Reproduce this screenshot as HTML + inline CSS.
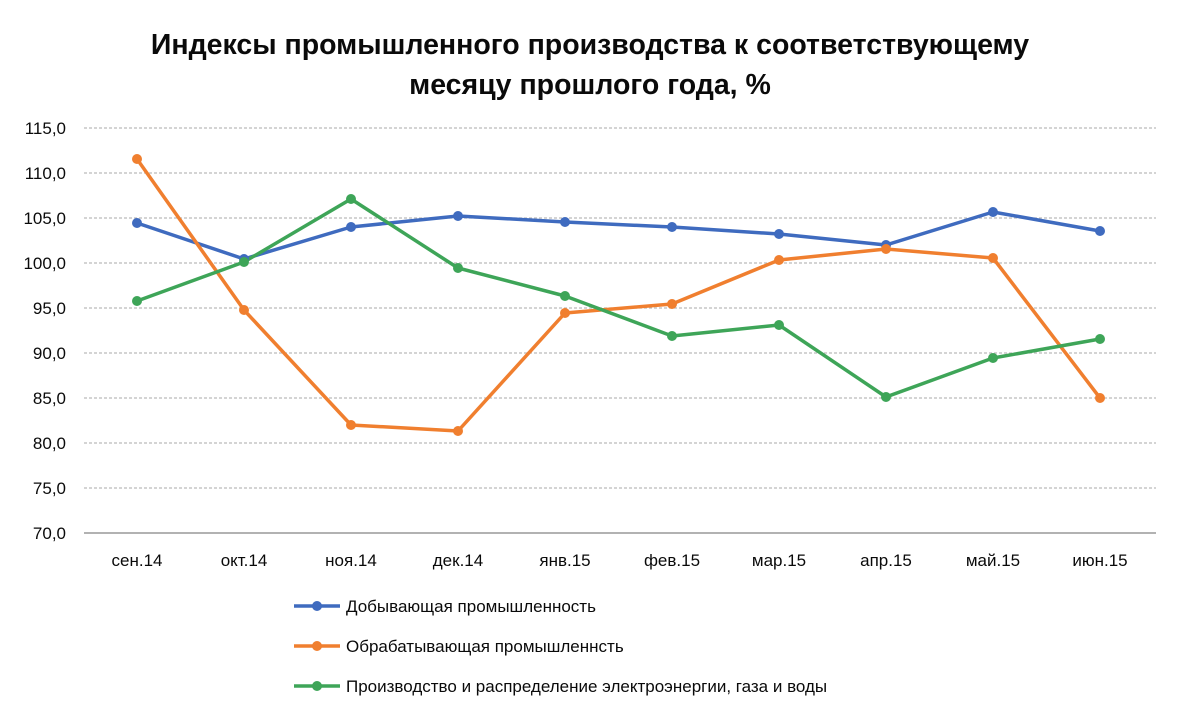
<!DOCTYPE html>
<html><head><meta charset="utf-8"><style>
body{margin:0;background:#fff;}
svg text{font-family:"Liberation Sans","DejaVu Sans",sans-serif;}
</style></head><body>
<svg width="1181" height="717" viewBox="0 0 1181 717" xmlns="http://www.w3.org/2000/svg">
<rect width="1181" height="717" fill="#fff"/>
<text x="590" y="54" text-anchor="middle" font-size="28.5" font-weight="bold" fill="#0a0a0a">Индексы промышленного производства к соответствующему</text>
<text x="590" y="94" text-anchor="middle" font-size="28.5" font-weight="bold" fill="#0a0a0a">месяцу прошлого года, %</text>
<g stroke="#bbb" stroke-width="1.3" stroke-dasharray="3,2">
<line x1="84" x2="1156" y1="128" y2="128"/><line x1="84" x2="1156" y1="173" y2="173"/>
<line x1="84" x2="1156" y1="218" y2="218"/><line x1="84" x2="1156" y1="263" y2="263"/>
<line x1="84" x2="1156" y1="308" y2="308"/><line x1="84" x2="1156" y1="353" y2="353"/>
<line x1="84" x2="1156" y1="398" y2="398"/><line x1="84" x2="1156" y1="443" y2="443"/>
<line x1="84" x2="1156" y1="488" y2="488"/>
</g>
<line x1="84" x2="1156" y1="533" y2="533" stroke="#999" stroke-width="1.5"/>
<g font-size="17" fill="#0a0a0a" text-anchor="end">
<text x="66" y="134">115,0</text><text x="66" y="179">110,0</text><text x="66" y="224">105,0</text>
<text x="66" y="269">100,0</text><text x="66" y="314">95,0</text><text x="66" y="359">90,0</text>
<text x="66" y="404">85,0</text><text x="66" y="449">80,0</text><text x="66" y="494">75,0</text>
<text x="66" y="539">70,0</text>
</g>
<g font-size="17" fill="#0a0a0a" text-anchor="middle">
<text x="137" y="566">сен.14</text><text x="244" y="566">окт.14</text><text x="351" y="566">ноя.14</text>
<text x="458" y="566">дек.14</text><text x="565" y="566">янв.15</text><text x="672" y="566">фев.15</text>
<text x="779" y="566">мар.15</text><text x="886" y="566">апр.15</text><text x="993" y="566">май.15</text>
<text x="1100" y="566">июн.15</text>
</g>
<g fill="none" stroke-width="3.5" stroke-linejoin="round">
<polyline stroke="#3f6bbf" points="137,223 244,259 351,227 458,216 565,222 672,227 779,234 886,245 993,212 1100,231"/>
<polyline stroke="#f07f2f" points="137,159 244,310 351,425 458,431 565,313 672,304 779,260 886,249 993,258 1100,398"/>
<polyline stroke="#3ea558" points="137,301 244,262 351,199 458,268 565,296 672,336 779,325 886,397 993,358 1100,339"/>
</g>
<g fill="#3f6bbf"><circle cx="137" cy="223" r="5"/><circle cx="244" cy="259" r="5"/><circle cx="351" cy="227" r="5"/><circle cx="458" cy="216" r="5"/><circle cx="565" cy="222" r="5"/><circle cx="672" cy="227" r="5"/><circle cx="779" cy="234" r="5"/><circle cx="886" cy="245" r="5"/><circle cx="993" cy="212" r="5"/><circle cx="1100" cy="231" r="5"/></g>
<g fill="#f07f2f"><circle cx="137" cy="159" r="5"/><circle cx="244" cy="310" r="5"/><circle cx="351" cy="425" r="5"/><circle cx="458" cy="431" r="5"/><circle cx="565" cy="313" r="5"/><circle cx="672" cy="304" r="5"/><circle cx="779" cy="260" r="5"/><circle cx="886" cy="249" r="5"/><circle cx="993" cy="258" r="5"/><circle cx="1100" cy="398" r="5"/></g>
<g fill="#3ea558"><circle cx="137" cy="301" r="5"/><circle cx="244" cy="262" r="5"/><circle cx="351" cy="199" r="5"/><circle cx="458" cy="268" r="5"/><circle cx="565" cy="296" r="5"/><circle cx="672" cy="336" r="5"/><circle cx="779" cy="325" r="5"/><circle cx="886" cy="397" r="5"/><circle cx="993" cy="358" r="5"/><circle cx="1100" cy="339" r="5"/></g>
<g stroke-width="3.5">
<line x1="294" x2="340" y1="606" y2="606" stroke="#3f6bbf"/><circle cx="317" cy="606" r="5" fill="#3f6bbf"/>
<line x1="294" x2="340" y1="646" y2="646" stroke="#f07f2f"/><circle cx="317" cy="646" r="5" fill="#f07f2f"/>
<line x1="294" x2="340" y1="686" y2="686" stroke="#3ea558"/><circle cx="317" cy="686" r="5" fill="#3ea558"/>
</g>
<g font-size="17" fill="#0a0a0a">
<text x="346" y="612">Добывающая промышленность</text>
<text x="346" y="652">Обрабатывающая промышленнсть</text>
<text x="346" y="692">Производство и распределение электроэнергии, газа и воды</text>
</g>
</svg>
</body></html>
